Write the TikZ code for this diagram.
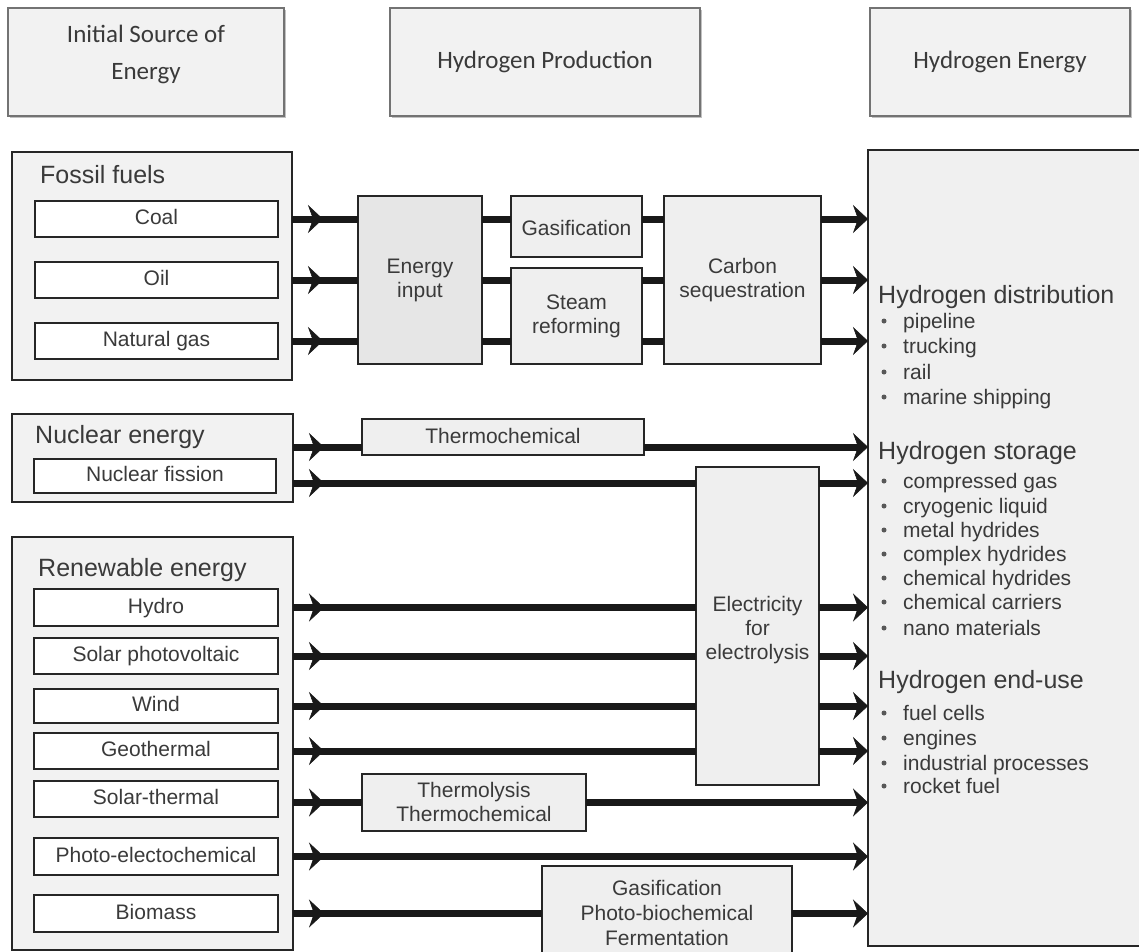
\documentclass[tikz,border=0pt]{standalone}
\usepackage{fontspec}
\setmainfont{Liberation Sans}
\newfontfamily\hdfont{Carlito}
\usetikzlibrary{arrows.meta,decorations.markings,fit,shadows}
\definecolor{grp}{HTML}{F2F2F2}
\definecolor{proc}{HTML}{EFEFEF}
\definecolor{procdk}{HTML}{E6E6E6}
\definecolor{hbox}{HTML}{F0F0F0}
\definecolor{txt}{HTML}{3A3A3A}
\newcommand\fsm{\fontsize{21}{24}\selectfont}
\newcommand\flg{\fontsize{25}{29}\selectfont}
\newcommand\fhd{\hdfont\fontsize{25}{37}\selectfont}
\tikzset{
 frame/.style={draw=black!85, line width=1.3pt, inner sep=0pt, outer sep=0pt},
 hdrbox/.style={draw=black!55, line width=1.2pt, fill=grp, inner sep=0pt, outer sep=0pt,
   drop shadow={shadow xshift=2pt, shadow yshift=-2pt, fill=black!40, opacity=0.6}},
 hdrtext/.style={align=center, text=txt, font=\fhd, inner sep=0pt},
 group/.style={frame, fill=grp},
 item/.style={frame, fill=white, align=center, text=txt, font=\fsm, text height=15pt, text depth=4pt},
 procbox/.style={frame, fill=proc, align=center, text=txt, font=\fsm},
 ptext/.style={text=txt, font=\fsm, align=center, inner sep=0pt},
 title/.style={anchor=west, inner sep=0pt, text=txt, font=\flg, text height=18pt, text depth=5pt},
 bul/.style={anchor=west, inner sep=0pt, text=txt, font=\fsm, text height=15pt, text depth=4pt},
 dot/.style={circle, fill=txt!85, inner sep=0pt, minimum size=5pt},
 flow/.style={line width=7pt, draw=black!90},
 tipend/.style={-{Stealth[length=15pt,width=28pt,inset=5pt,line width=0.5pt]}},
 midtip/.style={postaction={decorate}, decoration={markings,
   mark=at position 31pt with {\arrow{Stealth[length=15pt,width=28pt,inset=5pt,line width=0.5pt]}}}},
}
\begin{document}
\begin{tikzpicture}[x=1pt,y=-1pt]
\useasboundingbox (0,0) rectangle (1139,951);
\fill[white] (0,0) rectangle (1139,951);

% header boxes
\node[hdrbox, fit={(8,8) (284,116)}] (h1) {};
\node[hdrbox, fit={(390,8) (700,116)}] (h2) {};
\node[hdrbox, fit={(870,8) (1130,116)}] (h3) {};
\node[hdrtext] (h1t) at (146,54) {Initial Source of\\Energy};
\node[hdrtext] (h2t) at (545,62) {Hydrogen Production};
\node[hdrtext] (h3t) at (1000,62) {Hydrogen Energy};

% source groups
\node[group, fit={(12,152) (292,380)}] (fossil) {};
\node[title] (fossilt) at (40,177) {Fossil fuels};
\node[item, minimum width=243pt, minimum height=36pt] (coal) at (156.5,219) {Coal};
\node[item, minimum width=243pt, minimum height=36pt] (oil) at (156.5,280) {Oil};
\node[item, minimum width=243pt, minimum height=36pt] (ng) at (156.5,341) {Natural gas};

\node[group, fit={(12,414) (293,502)}] (nuc) {};
\node[title] (nuct) at (35,437) {Nuclear energy};
\node[item, minimum width=242pt, minimum height=34pt] (fis) at (155,476) {Nuclear fission};

\node[group, fit={(12,537) (293,950)}] (ren) {};
\node[title] (rent) at (38,570) {Renewable energy};
\node[item, minimum width=244pt, minimum height=37pt] (hydro) at (156,607.5) {Hydro};
\node[item, minimum width=244pt, minimum height=36pt] (pv) at (156,656) {Solar photovoltaic};
\node[item, minimum width=244pt, minimum height=34pt] (wind) at (156,706) {Wind};
\node[item, minimum width=244pt, minimum height=36pt] (geo) at (156,751) {Geothermal};
\node[item, minimum width=244pt, minimum height=36pt] (sth) at (156,799) {Solar-thermal};
\node[item, minimum width=244pt, minimum height=37pt] (pec) at (156,856.5) {Photo-electochemical};
\node[item, minimum width=244pt, minimum height=37pt] (bio) at (156,913.5) {Biomass};

% process boxes
\node[procbox, fill=procdk, fit={(358,196) (482,364)}] (energy) {};
\node[ptext] (energyt) at (420,280) {Energy\\input};
\node[procbox, fit={(511,196) (642,257)}] (gasif) {};
\node[ptext] (gasift) at (576.5,228) {Gasification};
\node[procbox, fit={(511,268) (642,364)}] (steam) {};
\node[ptext] (steamt) at (576.5,316) {Steam\\reforming};
\node[procbox, fit={(664,196) (821,364)}] (carbon) {};
\node[ptext] (carbont) at (742.5,280) {Carbon\\sequestration};

\node[procbox, fit={(362,419) (644,455)}] (thermo) {};
\node[ptext] (thermot) at (503,436) {Thermochemical};
\node[procbox, fit={(696,467) (819,785)}] (elec) {};
\node[ptext] (elect) at (757.5,630) {Electricity\\for\\electrolysis};
\node[procbox, fit={(362,774) (586,831)}] (tlys) {};
\node[ptext] (tlyst) at (474,802) {Thermolysis\\Thermochemical};
\node[procbox, fit={(542,866) (792,965)}] (bgas) {};
\node[ptext, font=\fontsize{21}{25}\selectfont] (bgast) at (667,913) {Gasification\\Photo-biochemical\\Fermentation};

% hydrogen energy box
\node[frame, fill=hbox, fit={(868,150) (1160,946)}] (hbox) {};
\node[title] (hd1) at (878,297) {Hydrogen distribution};
\node[title] (hd2) at (878,453) {Hydrogen storage};
\node[title] (hd3) at (878,682) {Hydrogen end-use};
\foreach \t/\yy [count=\i] in {pipeline/323, trucking/348, rail/374, marine shipping/399,
  compressed gas/483, cryogenic liquid/508, metal hydrides/532, complex hydrides/556,
  chemical hydrides/580, chemical carriers/604, nano materials/630,
  fuel cells/715, engines/740, industrial processes/765, rocket fuel/788}{
  \node[bul] (hi\i) at (903,\yy) {\t};
  \node[dot] (hb\i) at (884,\yy-2) {};
}

% y-levels not at item centres
\coordinate (ya) at (0,447);
\coordinate (yb) at (0,483);

% fossil flows
\draw[flow, midtip] (fossil.east |- coal) -- (energy.west |- coal);
\draw[flow] (energy.east |- coal) -- (gasif.west |- coal);
\draw[flow] (gasif.east |- coal) -- (carbon.west |- coal);
\draw[flow, tipend] (carbon.east |- coal) -- (hbox.west |- coal);
\draw[flow, midtip] (fossil.east |- oil) -- (energy.west |- oil);
\draw[flow] (energy.east |- oil) -- (steam.west |- oil);
\draw[flow] (steam.east |- oil) -- (carbon.west |- oil);
\draw[flow, tipend] (carbon.east |- oil) -- (hbox.west |- oil);
\draw[flow, midtip] (fossil.east |- ng) -- (energy.west |- ng);
\draw[flow] (energy.east |- ng) -- (steam.west |- ng);
\draw[flow] (steam.east |- ng) -- (carbon.west |- ng);
\draw[flow, tipend] (carbon.east |- ng) -- (hbox.west |- ng);

% nuclear flows
\draw[flow, midtip] (nuc.east |- ya) -- (thermo.west |- ya);
\draw[flow, tipend] (thermo.east |- ya) -- (hbox.west |- ya);
\draw[flow, midtip] (nuc.east |- yb) -- (elec.west |- yb);
\draw[flow, tipend] (elec.east |- yb) -- (hbox.west |- yb);

% renewable flows
\foreach \s in {hydro, pv, wind, geo}{
  \draw[flow, midtip] (ren.east |- \s) -- (elec.west |- \s);
  \draw[flow, tipend] (elec.east |- \s) -- (hbox.west |- \s);
}
\draw[flow, midtip] (ren.east |- tlys) -- (tlys.west);
\draw[flow, tipend] (tlys.east) -- (hbox.west |- tlys);
\draw[flow, midtip, tipend] (ren.east |- pec) -- (hbox.west |- pec);
\draw[flow, midtip] (ren.east |- bio) -- (bgas.west |- bio);
\draw[flow, tipend] (bgas.east |- bio) -- (hbox.west |- bio);
\end{tikzpicture}
\end{document}
